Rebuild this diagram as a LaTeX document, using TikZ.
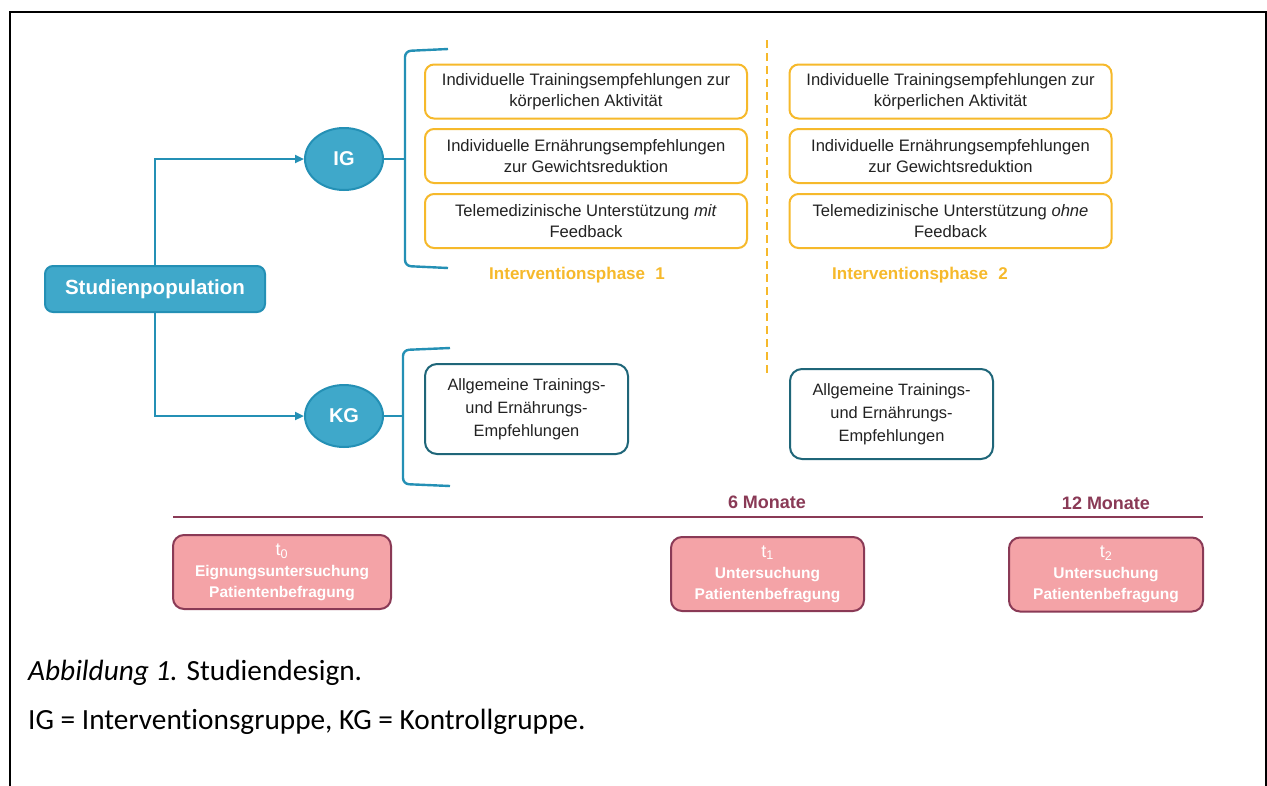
\documentclass[tikz,border=0pt]{standalone}
\usepackage{fontspec}
\setmainfont{Liberation Sans}
\newfontfamily\capfont[Ligatures=NoCommon]{Carlito}
\usetikzlibrary{shapes.geometric,arrows.meta}
\definecolor{teal1}{HTML}{3FA8CA}
\definecolor{teal2}{HTML}{2490B5}
\definecolor{gold}{HTML}{F6B92B}
\definecolor{dteal}{HTML}{1F6679}
\definecolor{maroon}{HTML}{8A3A56}
\definecolor{pinkf}{HTML}{F4A3A7}
\definecolor{txt}{HTML}{222222}
\begin{document}
\begin{tikzpicture}[x=1pt,y=-1pt,
  goldbox/.style={draw=gold, line width=2pt, rounded corners=9pt, fill=white,
    minimum width=322pt, minimum height=54pt, align=center, text=txt,
    font=\fontsize{16.6}{21}\selectfont, inner sep=2pt},
  kgbox/.style={draw=dteal, line width=2pt, rounded corners=12pt, fill=white,
    minimum width=203pt, minimum height=90pt, align=center, text=txt,
    font=\fontsize{16.4}{23}\selectfont, inner sep=2pt},
  pinkbox/.style={draw=maroon, fill=pinkf, line width=2pt, rounded corners=11pt,
    minimum height=74pt, align=center, text=white, inner sep=2pt,
    font=\bfseries\fontsize{15.5}{21}\selectfont},
  grp/.style={ellipse, draw=teal2, fill=teal1, line width=2pt, minimum width=78pt,
    minimum height=62pt, inner sep=0pt, text=white, font=\bfseries\fontsize{20}{24}\selectfont},
  conn/.style={draw=teal2, line width=2.2pt},
  arr/.style={conn, -{Triangle[length=9pt,width=8pt]}},
  brk/.style={draw=teal2, line width=2.4pt, rounded corners=6pt},
  phase/.style={text=gold, font=\bfseries\fontsize{17}{20}\selectfont},
  month/.style={text=maroon, font=\bfseries\fontsize{18}{21}\selectfont},
  captxt/.style={anchor=base west, font=\capfont\fontsize{29.3}{33}\selectfont, inner sep=0pt}
]
\useasboundingbox (0,0) rectangle (1267,785);
\fill[white] (0,0) rectangle (1267,785);
% frame
\draw[line width=2.2pt] (10,786) -- (10,12) -- (1266,12) -- (1266,786);

% Studienpopulation
\node[draw=teal2, fill=teal1, line width=2pt, rounded corners=8pt, minimum width=220pt,
  minimum height=46pt, text=white, font=\bfseries\fontsize{20.5}{24}\selectfont, inner sep=0pt]
  (sp) at (155,289) {Studienpopulation};

\node[grp] (IG) at (344,159) {IG};
\node[grp] (KG) at (344,416) {KG};

\draw[arr] (sp.north) |- (IG.west);
\draw[arr] (sp.south) |- (KG.west);

% brackets
\coordinate (b1) at (405,157);
\coordinate (b2) at (403,416);
\draw[brk] (448,49) -- (405,51) -- (405,266) -- (448,268);
\draw[brk] (450,348) -- (403,350) -- (403,484) -- (450,486);
\draw[conn] (IG.east) -- (IG.east -| b1);
\draw[conn] (KG.east) -- (KG.east -| b2);

% phase 1 boxes
\node[goldbox] (p1a) at (586,91.5) {Individuelle Trainingsempfehlungen zur\\körperlichen Aktivität};
\node[goldbox] (p1b) at (586,156) {Individuelle Ernährungsempfehlungen\\zur Gewichtsreduktion};
\node[goldbox] (p1c) at (586,221) {Telemedizinische Unterstützung \textit{mit}\\Feedback};
% phase 2 boxes
\node[goldbox] (p2a) at (950.5,91.5) {Individuelle Trainingsempfehlungen zur\\körperlichen Aktivität};
\node[goldbox] (p2b) at (950.5,156) {Individuelle Ernährungsempfehlungen\\zur Gewichtsreduktion};
\node[goldbox] (p2c) at (950.5,221) {Telemedizinische Unterstützung \textit{ohne}\\Feedback};

\node[phase] (ph1) at (577,275) {Interventionsphase\hspace{0.6em}1};
\node[phase] (ph2) at (920,275) {Interventionsphase\hspace{0.6em}2};

% dashed divider
\coordinate (d1) at (767,40);
\coordinate (d2) at (767,377);
\draw[gold, line width=2.4pt, dash pattern=on 8pt off 5pt] (d1) -- (d2);

% KG boxes
\node[kgbox] (k1) at (526.5,409) {Allgemeine Trainings-\\und Ernährungs-\\Empfehlungen};
\node[kgbox] (k2) at (891.5,414) {Allgemeine Trainings-\\und Ernährungs-\\Empfehlungen};

% timeline
\coordinate (tlA) at (173,517);
\coordinate (tlB) at (1203,517);
\draw[maroon, line width=2.5pt] (tlA) -- (tlB);
\node[month] (m6) at (767,502) {6 Monate};
\node[month] (m12) at (1106,503) {12 Monate};

\node[pinkbox, minimum width=218pt] (t0) at (282,572)
  {{\mdseries\fontsize{18}{21}\selectfont t\textsubscript{0}}\\Eignungsuntersuchung\\Patientenbefragung};
\node[pinkbox, minimum width=193pt] (t1) at (767.5,574)
  {{\mdseries\fontsize{18}{21}\selectfont t\textsubscript{1}}\\Untersuchung\\Patientenbefragung};
\node[pinkbox, minimum width=194pt] (t2) at (1106,574.5)
  {{\mdseries\fontsize{18}{21}\selectfont t\textsubscript{2}}\\Untersuchung\\Patientenbefragung};

% caption
\node[captxt] (c1) at (28,680) {\textit{Abbildung 1.} Studiendesign.};
\node[captxt] (c2) at (28,729) {IG = Interventionsgruppe, KG = Kontrollgruppe.};
\end{tikzpicture}
\end{document}
